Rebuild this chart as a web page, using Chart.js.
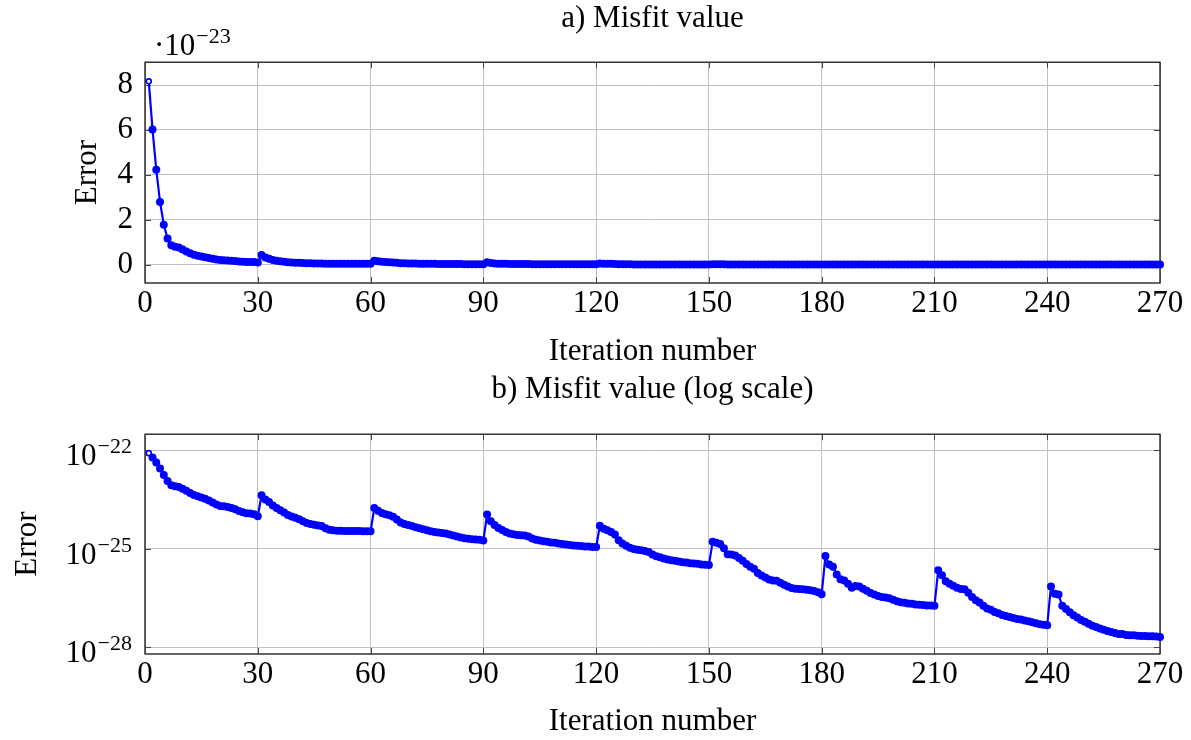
<!DOCTYPE html>
<html><head><meta charset="utf-8">
<script src="https://cdn.jsdelivr.net/npm/chart.js@4/dist/chart.umd.min.js"></script>
<style>
html,body{margin:0;padding:0;background:#fff;}
#wrap{position:relative;width:1191px;height:740px;overflow:hidden;}
.box{position:absolute;left:0;width:1191px;height:370px;}
</style></head><body>
<div id="wrap">
<div class="box" style="top:0"><canvas id="c1" width="1191" height="370"></canvas></div>
<div class="box" style="top:370px"><canvas id="c2" width="1191" height="370"></canvas></div>
</div>
<script>
// log10 of the misfit value, read per iteration, one array per 30-iteration cycle
const cycle1 = [-22.088,-22.220,-22.374,-22.554,-22.750,-22.936,-23.066,-23.10,-23.12,-23.17,
  -23.23,-23.30,-23.36,-23.40,-23.44,-23.48,-23.53,-23.59,-23.65,-23.70,
  -23.71,-23.73,-23.76,-23.80,-23.85,-23.89,-23.92,-23.93,-23.95,-24.01];
const cycle2 = [-23.37,-23.50,-23.58,-23.68,-23.76,-23.83,-23.90,-23.97,-24.02,-24.06,
  -24.10,-24.16,-24.22,-24.25,-24.27,-24.29,-24.31,-24.38,-24.42,-24.44,
  -24.45,-24.45,-24.46,-24.46,-24.46,-24.46,-24.46,-24.47,-24.47,-24.47];
const cycle3 = [-23.76,-23.84,-23.91,-23.95,-23.98,-24.03,-24.11,-24.20,-24.25,-24.28,
  -24.31,-24.35,-24.38,-24.41,-24.44,-24.47,-24.49,-24.51,-24.52,-24.54,
  -24.57,-24.60,-24.63,-24.66,-24.68,-24.70,-24.71,-24.72,-24.73,-24.75];
const cycle4 = [-23.96,-24.16,-24.28,-24.37,-24.43,-24.49,-24.54,-24.56,-24.58,-24.59,
  -24.60,-24.63,-24.69,-24.73,-24.75,-24.77,-24.79,-24.81,-24.82,-24.84,
  -24.86,-24.87,-24.89,-24.90,-24.91,-24.92,-24.93,-24.93,-24.95,-24.95];
const cycle5 = [-24.30,-24.39,-24.44,-24.49,-24.57,-24.74,-24.84,-24.91,-24.97,-25.01,
  -25.03,-25.05,-25.07,-25.10,-25.18,-25.23,-25.26,-25.30,-25.33,-25.35,
  -25.37,-25.39,-25.41,-25.42,-25.44,-25.45,-25.46,-25.48,-25.49,-25.50];
const cycle6 = [-24.79,-24.82,-24.86,-24.99,-25.17,-25.18,-25.21,-25.28,-25.37,-25.47,
  -25.55,-25.61,-25.74,-25.82,-25.88,-25.94,-25.97,-25.98,-26.04,-26.10,
  -26.15,-26.20,-26.22,-26.23,-26.24,-26.25,-26.27,-26.29,-26.33,-26.39];
const cycle7 = [-25.22,-25.48,-25.55,-25.79,-25.93,-25.97,-26.07,-26.19,-26.14,-26.15,
  -26.22,-26.28,-26.35,-26.40,-26.44,-26.47,-26.49,-26.51,-26.56,-26.60,
  -26.63,-26.65,-26.67,-26.68,-26.70,-26.71,-26.72,-26.73,-26.73,-26.74];
const cycle8 = [-25.66,-25.81,-25.99,-26.07,-26.13,-26.19,-26.23,-26.24,-26.34,-26.47,
  -26.57,-26.64,-26.74,-26.82,-26.86,-26.93,-26.97,-27.02,-27.05,-27.08,
  -27.11,-27.14,-27.16,-27.19,-27.21,-27.24,-27.27,-27.30,-27.32,-27.33];
const cycle9 = [-26.15,-26.37,-26.40,-26.74,-26.84,-26.94,-27.03,-27.10,-27.17,-27.23,
  -27.29,-27.35,-27.39,-27.43,-27.47,-27.51,-27.54,-27.57,-27.60,-27.60,
  -27.63,-27.64,-27.64,-27.65,-27.66,-27.66,-27.67,-27.67,-27.68,-27.69];

const xTicks = [0,30,60,90,120,150,180,210,240,270];
const yTicksLinear = [0,2,4,6,8];
const yTicksLog = [1e-28,1e-25,1e-22];
const multiplierExponent = '−23';

const exponents = [].concat(cycle1,cycle2,cycle3,cycle4,cycle5,cycle6,cycle7,cycle8,cycle9);
const iterations = exponents.map((_, i) => i + 1);
const errorValues = exponents.map(e => Math.pow(10, e));
const scaledValues = exponents.map(e => Math.pow(10, e + 23)); // in units of 1e-23

const FONT_FAMILY = "'Liberation Serif','DejaVu Serif',serif";
const font = {family: FONT_FAMILY, size: 31, weight: 'normal'};
const BLUE = '#0000ff';

// draws "base" followed by a raised, smaller exponent
function drawPower(ctx, prefix, exp, x, baseline, align) {
  ctx.save();
  ctx.fillStyle = '#000';
  ctx.textBaseline = 'alphabetic';
  ctx.textAlign = 'left';
  ctx.font = `31px ${FONT_FAMILY}`;
  const wBase = ctx.measureText(prefix).width;
  ctx.font = `22px ${FONT_FAMILY}`;
  const wExp = ctx.measureText(exp).width;
  const left = align === 'right' ? x - wBase - wExp - 1 : x;
  ctx.font = `31px ${FONT_FAMILY}`;
  ctx.fillText(prefix, left, baseline);
  ctx.font = `22px ${FONT_FAMILY}`;
  ctx.fillText(exp, left + wBase + 1, baseline - 12);
  ctx.restore();
}

const framePlugin = {
  id: 'frame',
  beforeDatasetsDraw(chart) {
    const {ctx, chartArea: a, scales} = chart;
    ctx.save();
    ctx.strokeStyle = '#000';
    ctx.lineWidth = 1.2;
    ctx.strokeRect(a.left, a.top, a.right - a.left, a.bottom - a.top);
    ctx.strokeStyle = '#444';
    ctx.lineWidth = 1;
    scales.x.ticks.forEach(t => {
      const px = Math.round(scales.x.getPixelForValue(t.value)) + 0.5;
      ctx.beginPath();
      ctx.moveTo(px, a.bottom); ctx.lineTo(px, a.bottom - 6);
      ctx.moveTo(px, a.top); ctx.lineTo(px, a.top + 6);
      ctx.stroke();
    });
    scales.y.ticks.forEach(t => {
      const py = Math.round(scales.y.getPixelForValue(t.value)) + 0.5;
      ctx.beginPath();
      ctx.moveTo(a.left, py); ctx.lineTo(a.left + 6, py);
      ctx.moveTo(a.right, py); ctx.lineTo(a.right - 6, py);
      ctx.stroke();
    });
    ctx.restore();
  }
};

const multiplierPlugin = {
  id: 'multiplier',
  afterDraw(chart) {
    drawPower(chart.ctx, '·10', multiplierExponent, 154, 55, 'left');
  }
};

// power-of-ten tick labels for the log axis
const logLabelPlugin = {
  id: 'logLabels',
  afterDraw(chart) {
    const y = chart.scales.y;
    y.ticks.forEach(t => {
      const e = Math.round(Math.log10(t.value));
      const exp = (e < 0 ? '−' : '') + Math.abs(e);
      drawPower(chart.ctx, '10', exp, y.right - 13, y.getPixelForValue(t.value) + 15, 'right');
    });
  }
};

function dataset(values) {
  return {
    data: iterations.map((x, i) => ({x, y: values[i]})),
    borderColor: BLUE,
    backgroundColor: BLUE,
    borderWidth: 2.2,
    pointRadius: c => c.dataIndex === 0 ? 2.5 : 3.2,
    pointBackgroundColor: c => c.dataIndex === 0 ? '#ffffff' : BLUE,
    pointBorderColor: BLUE,
    pointBorderWidth: 1.6,
    tension: 0,
    clip: 8
  };
}

function xScale(height) {
  return {
    type: 'linear', min: 0, max: 270,
    afterBuildTicks: s => { s.ticks = xTicks.map(v => ({value: v})); },
    ticks: {font, color: '#000', padding: 2, maxRotation: 0, autoSkip: false},
    grid: {color: '#bfbfbf', lineWidth: 1, drawTicks: false},
    border: {display: false},
    title: {display: true, text: 'Iteration number', font, color: '#000', padding: {top: 0, bottom: 0}},
    afterFit: s => { s.height = height; }
  };
}

function commonOptions(titleText, titlePad) {
  return {
    responsive: false, animation: false, devicePixelRatio: 1,
    layout: {padding: {left: 0, right: 31, top: 0, bottom: 0}},
    plugins: {
      legend: {display: false},
      tooltip: {enabled: false},
      title: {display: true, text: titleText, font, color: '#000', fullSize: false, padding: titlePad}
    }
  };
}

// a) linear
const opt1 = commonOptions('a) Misfit value', {top: 0, bottom: 25});
opt1.scales = {
  x: xScale(87),
  y: {
    type: 'linear', min: -0.82, max: 9.02,
    afterBuildTicks: s => { s.ticks = yTicksLinear.map(v => ({value: v})); },
    ticks: {font, color: '#000', padding: 12},
    grid: {color: '#bfbfbf', lineWidth: 1, drawTicks: false},
    border: {display: false},
    title: {display: true, text: 'Error', font, color: '#000', padding: {top: 69, bottom: 0}},
    afterFit: s => { s.width = 145; }
  }
};
new Chart(document.getElementById('c1'), {
  type: 'line',
  data: {datasets: [dataset(scaledValues)]},
  options: opt1,
  plugins: [framePlugin, multiplierPlugin]
});

// b) log scale
const opt2 = commonOptions('b) Misfit value (log scale)', {top: 1, bottom: 26});
opt2.scales = {
  x: xScale(86),
  y: {
    type: 'logarithmic', min: Math.pow(10, -28.21), max: Math.pow(10, -21.51),
    afterBuildTicks: s => { s.ticks = yTicksLog.map(v => ({value: v})); },
    ticks: {display: false},
    grid: {color: '#bfbfbf', lineWidth: 1, drawTicks: false},
    border: {display: false},
    title: {display: true, text: 'Error', font, color: '#000', padding: {top: 9, bottom: 0}},
    afterFit: s => { s.width = 145; }
  }
};
new Chart(document.getElementById('c2'), {
  type: 'line',
  data: {datasets: [dataset(errorValues)]},
  options: opt2,
  plugins: [framePlugin, logLabelPlugin]
});
</script>
</body></html>
